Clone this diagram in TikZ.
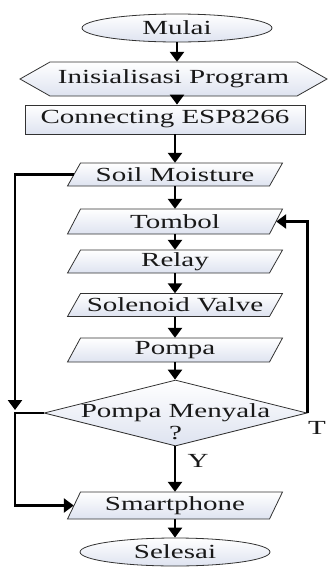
\documentclass[tikz,border=0pt]{standalone}
\usepackage{fontspec}
\setmainfont{Liberation Serif}[FakeStretch=1.45]
\usetikzlibrary{shapes.geometric,arrows.meta}
\definecolor{shapefill}{RGB}{222,227,240}
\definecolor{edgec}{RGB}{50,50,50}
\tikzset{
  base/.style={draw=edgec, line width=0.8pt, top color=white, bottom color=shapefill},
  txt/.style={font=\fontsize{20}{21}\selectfont, text=black!90, inner sep=0pt},
  term/.style={base, txt, ellipse, minimum width=190pt, minimum height=28pt},
  conn/.style={line width=2.8pt, -{Triangle[width=14pt,length=10pt]}},
}
\newcommand{\paral}[5]{% name, cx, cy, half height, text
  \path[base] ({#2-107.5},{#3+#4}) -- ({#2+94.5},{#3+#4}) -- ({#2+107.5},{#3-#4}) -- ({#2-94.5},{#3-#4}) -- cycle;
  \node[txt, minimum width=202pt, minimum height={2*#4}] (#1) at (#2,#3) {#5};}
\begin{document}
\begin{tikzpicture}[x=1pt,y=-1pt]
\useasboundingbox (0,0) rectangle (328,571);
% start
\node[term] (mulai) at (177,28) {Mulai};
% hexagon
\path[base] (20,79) -- (50,62) -- (297,62) -- (327,79) -- (297,96) -- (50,96) -- cycle;
\node[txt, minimum width=307pt, minimum height=34pt] (ini) at (173.5,79) {Inisialisasi Program};
% rectangle
\node[base, txt, rectangle, minimum width=280pt, minimum height=29pt] (esp) at (165,119.5) {Connecting ESP8266};
% parallelograms
\paral{soil}{175}{174.5}{11.5}{Soil Moisture}
\paral{tombol}{175}{221.5}{12.5}{Tombol}
\paral{relay}{175}{261.5}{11.5}{Relay}
\paral{sol}{175}{305}{11.5}{Solenoid Valve}
\paral{pompa}{175}{350}{12}{Pompa}
% decision
\node[base, diamond, minimum width=263pt, minimum height=66pt, inner sep=0pt] (dec) at (175.5,413) {};
\node[txt, align=center] (dect) at (175.5,422) {Pompa Menyala\\[1pt]?};
\paral{smart}{175}{505.5}{13.5}{Smartphone}
% end
\node[term] (selesai) at (175,552) {Selesai};
% labels
\node[txt] (tl) at (317,428) {T};
\node[txt] (yl) at (198,461) {Y};
% junction points
\coordinate (jn) at (15,410);
\coordinate (lb) at (15,505.5);
% connectors
\draw[conn] (mulai.south) -- (mulai.south |- ini.north);
\draw[conn] (mulai.south |- ini.south) -- (mulai.south |- esp.north);
\draw[conn] (soil.north |- esp.south) -- (soil.north);
\draw[conn] (soil.south) -- (tombol.north);
\draw[conn] (tombol.south) -- (relay.north);
\draw[conn] (relay.south) -- (sol.north);
\draw[conn] (sol.south) -- (pompa.north);
\draw[conn] (pompa.south) -- (pompa.south |- dec.north);
\draw[conn] (pompa.south |- dec.south) -- (smart.north);
\draw[conn] (smart.south) -- (selesai.north);
\draw[conn] (soil.west) -| (jn);
\draw[conn] (dec.west) -| (lb) -- (smart.west);
\draw[conn] (dec.east) |- (tombol.east);
\end{tikzpicture}
\end{document}
